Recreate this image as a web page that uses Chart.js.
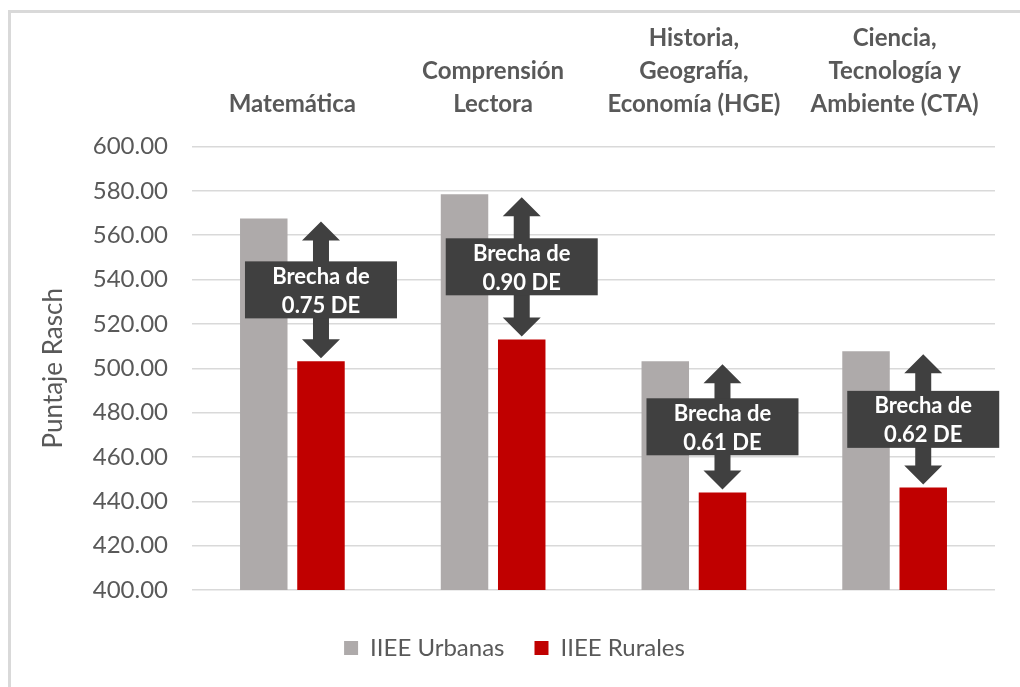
<!DOCTYPE html>
<html>
<head>
<meta charset="utf-8">
<title>Puntaje Rasch - IIEE Urbanas vs Rurales</title>
<script src="https://cdn.jsdelivr.net/npm/chart.js@4.4.1/dist/chart.umd.min.js"></script>
<style>
    html, body { margin: 0; padding: 0; background: #ffffff; }
    canvas { display: block; }
</style>
</head>
<body>
<canvas id="brecha-chart" width="1020" height="687"></canvas>
<script>
// areas evaluadas (una etiqueta por linea)
const areaLabels = [
    ['Matemática'],
    ['Comprensión', 'Lectora'],
    ['Historia,', 'Geografía,', 'Economía (HGE)'],
    ['Ciencia,', 'Tecnología y', 'Ambiente (CTA)']
];

const seriesNames = ['IIEE Urbanas', 'IIEE Rurales'];
const urbanasData = [567.5, 578.5, 503.2, 507.7];
const ruralesData = [503.2, 513.0, 444.0, 446.2];

// brecha en desviaciones estandar
const brechaLabels = ['0.75', '0.90', '0.61', '0.62'];

const textGray = '#595959';
const boxDark = '#404040';

Chart.defaults.font.family = 'Lato, "Open Sans", sans-serif';
Chart.defaults.color = textGray;

function draw_arrow(ctx, x, yTop, yBot)
{
    const head = 19;
    const headHalf = 19;
    const shaftHalf = 8;

    ctx.beginPath();
    ctx.moveTo(x, yTop);
    ctx.lineTo(x + headHalf, yTop + head);
    ctx.lineTo(x + shaftHalf, yTop + head);
    ctx.lineTo(x + shaftHalf, yBot - head);
    ctx.lineTo(x + headHalf, yBot - head);
    ctx.lineTo(x, yBot);
    ctx.lineTo(x - headHalf, yBot - head);
    ctx.lineTo(x - shaftHalf, yBot - head);
    ctx.lineTo(x - shaftHalf, yTop + head);
    ctx.lineTo(x - headHalf, yTop + head);
    ctx.closePath();
    ctx.fill();
}

const frameBorder = {
    id: 'frameBorder',
    beforeDraw(chart) {
        const ctx = chart.ctx;
        ctx.save();
        ctx.strokeStyle = '#d9d9d9';
        ctx.lineWidth = 3;
        ctx.strokeRect(9.5, 11.5, chart.width + 50, chart.height + 50);
        ctx.restore();
    }
};

// flechas dobles y cajas con la brecha entre urbanas y rurales
const brechaMarks = {
    id: 'brechaMarks',
    afterDatasetsDraw(chart) {
        const ctx = chart.ctx;
        const urbMeta = chart.getDatasetMeta(0);
        const rurMeta = chart.getDatasetMeta(1);

        ctx.save();

        for (let i = 0; i < brechaLabels.length; i++)
        {
            const bar = rurMeta.data[i];
            const x = bar.x;
            const yTop = urbMeta.data[i].y + 3;
            const yBot = bar.y - 3;
            const mid = (yTop + yBot) / 2;

            ctx.fillStyle = boxDark;
            draw_arrow(ctx, x, yTop, yBot);

            ctx.fillRect(x - 76, mid - 28.5, 152, 57);

            ctx.fillStyle = '#ffffff';
            ctx.font = 'bold 22px Lato, "Open Sans", sans-serif';
            ctx.textAlign = 'center';
            ctx.textBaseline = 'middle';
            ctx.fillText('Brecha de', x, mid - 13);
            ctx.fillText(brechaLabels[i] + ' DE', x, mid + 16);
        }
        ctx.restore();
    }
};

const chart_ctx = document.getElementById('brecha-chart').getContext('2d');

const brechaChart = new Chart(chart_ctx, {
    type: 'bar',
    data: {
        labels: areaLabels,
        datasets: [{
            label: seriesNames[0],
            data: urbanasData,
            backgroundColor: '#aeaaaa',
            borderWidth: 0
        }, {
            label: seriesNames[1],
            data: ruralesData,
            backgroundColor: '#c00000',
            borderWidth: 0
        }]
    },
    options: {
        responsive: false,
        animation: false,
        categoryPercentage: 0.57,
        barPercentage: 0.83,
        layout: {
            padding: { top: 20, left: 34, right: 25, bottom: 17 }
        },
        plugins: {
            legend: {
                position: 'bottom',
                title: {
                    display: true,
                    text: '',
                    font: { size: 10 },
                    padding: { top: 0, bottom: 4 }
                },
                labels: {
                    boxWidth: 14,
                    boxHeight: 14,
                    padding: 30,
                    color: textGray,
                    font: { size: 24 }
                }
            },
            tooltip: { enabled: false }
        },
        scales: {
            x: {
                position: 'top',
                grid: { display: false },
                border: { display: false },
                ticks: {
                    autoSkip: false,
                    maxRotation: 0,
                    padding: 18,
                    color: textGray,
                    font: { size: 24, weight: 'bold', lineHeight: '33px' }
                },
                afterFit: function(scale) {
                    scale.height = 126.5;
                }
            },
            y: {
                min: 400,
                max: 600,
                grid: {
                    color: '#d9d9d9',
                    lineWidth: 1.5,
                    drawTicks: false
                },
                border: { display: false },
                ticks: {
                    stepSize: 20,
                    padding: 24,
                    color: textGray,
                    font: { size: 24 },
                    callback: function(value) {
                        return value.toFixed(2);
                    }
                },
                title: {
                    display: true,
                    text: 'Puntaje Rasch',
                    color: textGray,
                    font: { size: 26 }
                },
                afterFit: function(scale) {
                    scale.width = 158;
                }
            }
        }
    },
    plugins: [frameBorder, brechaMarks]
});
</script>
</body>
</html>
